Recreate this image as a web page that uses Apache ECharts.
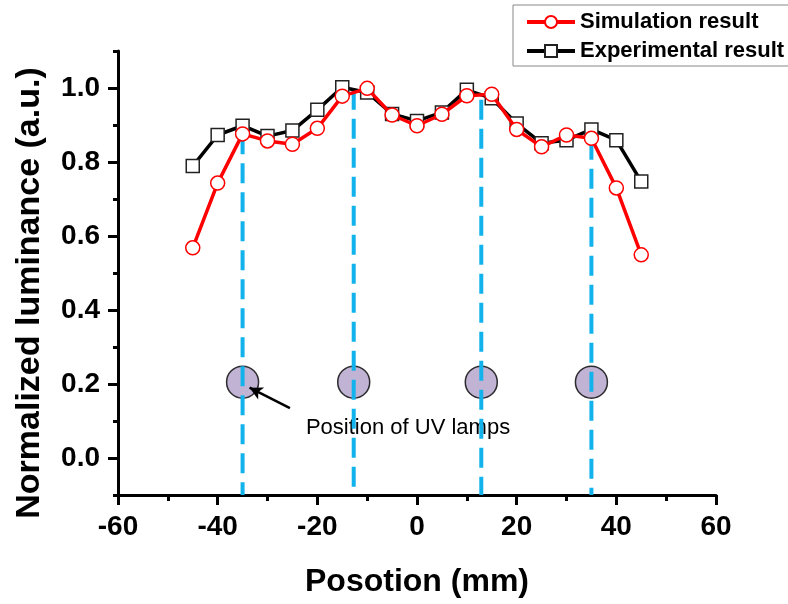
<!DOCTYPE html>
<html>
<head>
<meta charset="utf-8">
<script src="https://cdn.jsdelivr.net/npm/echarts@6/dist/echarts.min.js"></script>
<style>
  html, body { margin: 0; padding: 0; background: #fff; }
  #chart { width: 788px; height: 604px; }
</style>
</head>
<body>
<div id="chart"></div>
<script>
  // positions along the lamp plane (mm)
  var positions = [-45, -40, -35, -30, -25, -20, -15, -10, -5, 0, 5, 10, 15, 20, 25, 30, 35, 40, 45];
  var simulation = [0.568, 0.743, 0.876, 0.857, 0.848, 0.891, 0.978, 0.999, 0.927, 0.898, 0.929, 0.979, 0.983, 0.888, 0.841, 0.873, 0.864, 0.730, 0.549];
  var experimental = [0.789, 0.873, 0.898, 0.870, 0.885, 0.941, 1.002, 0.988, 0.930, 0.911, 0.934, 0.995, 0.972, 0.904, 0.851, 0.859, 0.888, 0.859, 0.747];

  // UV lamps
  var lampX = [-35, -12.7, 12.9, 35];
  var lampY = 0.205;
  var lampLineTop = [0.875, 0.995, 0.968, 0.86];
  var lampLineBottom = -0.1;

  // annotation (data coords)
  var arrowTail = [-25.5, 0.135];
  var arrowHead = [-33.6, 0.19];
  var noteAt = [-1.8, 0.081];
  var noteText = 'Position of UV lamps';

  var yLabels = [0, 0.2, 0.4, 0.6, 0.8, 1.0];
  var yMinor = [-0.1, 0.1, 0.3, 0.5, 0.7, 0.9, 1.1];

  var FONT = '"Liberation Sans", Arial, sans-serif';

  function pairs(xs, ys) {
    return xs.map(function (x, i) { return [x, ys[i]]; });
  }

  var chart = echarts.init(document.getElementById('chart'));

  var lampLines = lampX.map(function (x, i) {
    return {
      type: 'line',
      data: [[x, lampLineTop[i]], [x, lampLineBottom]],
      symbol: 'none',
      silent: true,
      z: 2,
      lineStyle: { color: '#12B2EC', width: 4, type: [20, 9] }
    };
  });

  chart.setOption({
    animation: false,
    grid: { left: 118, right: 72, top: 51, bottom: 109 },
    legend: {
      orient: 'vertical',
      left: 513,
      top: 5,
      padding: [5, 8, 3, 12],
      itemGap: 5,
      itemWidth: 48,
      itemHeight: 15,
      borderColor: '#888',
      borderWidth: 1,
      backgroundColor: '#fff',
      lineStyle: { width: 4 },
      data: ['Simulation result', 'Experimental result'],
      textStyle: { fontFamily: FONT, fontWeight: 'bold', fontSize: 22, color: '#000', lineHeight: 24 }
    },
    xAxis: {
      type: 'value',
      min: -60,
      max: 60,
      interval: 20,
      name: 'Posotion (mm)',
      nameLocation: 'middle',
      nameGap: 71,
      nameTextStyle: { fontFamily: FONT, fontWeight: 'bold', fontSize: 32, color: '#000' },
      axisLine: { onZero: false, lineStyle: { color: '#000', width: 3 } },
      axisTick: { length: 10, lineStyle: { color: '#000', width: 3 } },
      minorTick: { show: true, splitNumber: 2, length: 6, lineStyle: { color: '#000', width: 3 } },
      axisLabel: { margin: 18, fontFamily: FONT, fontWeight: 'bold', fontSize: 28, color: '#000' },
      splitLine: { show: false }
    },
    yAxis: [{
      type: 'value',
      min: -0.1,
      max: 1.1,
      axisLine: { show: true, onZero: false, lineStyle: { color: '#000', width: 3 } },
      axisTick: { show: true, customValues: yLabels, length: 10, lineStyle: { color: '#000', width: 3 } },
      axisLabel: {
        customValues: yLabels,
        margin: 18,
        fontFamily: FONT, fontWeight: 'bold', fontSize: 28, color: '#000',
        formatter: function (v) { return v.toFixed(1); }
      },
      splitLine: { show: false }
    }, {
      // minor ticks only
      type: 'value',
      min: -0.1,
      max: 1.1,
      position: 'left',
      offset: 0,
      axisLine: { show: false, onZero: false },
      axisTick: { show: true, customValues: yMinor, length: 5, lineStyle: { color: '#000', width: 3 } },
      axisLabel: { show: false },
      splitLine: { show: false }
    }],
    series: [{
      type: 'scatter',
      name: 'lamps',
      data: lampX.map(function (x) { return [x, lampY]; }),
      symbol: 'circle',
      symbolSize: 32,
      silent: true,
      z: 1,
      itemStyle: { color: '#B1A0C8', borderColor: '#000', borderWidth: 1.5 },
      markLine: {
        silent: true,
        animation: false,
        symbolSize: [10, 13],
        label: { show: false },
        lineStyle: { color: '#000', width: 2.5, type: 'solid' },
        data: [[
          { coord: arrowTail, symbol: 'none' },
          { coord: arrowHead, symbol: 'arrow' }
        ]]
      }
    }].concat(lampLines).concat([{
      type: 'line',
      name: 'Experimental result',
      data: pairs(positions, experimental),
      symbol: 'rect',
      symbolSize: 13,
      z: 3,
      lineStyle: { color: '#000', width: 3.5 },
      itemStyle: { color: '#fff', borderColor: '#222', borderWidth: 1.5 }
    }, {
      type: 'line',
      name: 'Simulation result',
      data: pairs(positions, simulation),
      symbol: 'circle',
      symbolSize: 14,
      z: 4,
      lineStyle: { color: '#FF0000', width: 3.5 },
      itemStyle: { color: '#fff', borderColor: '#FF0000', borderWidth: 1.5 }
    }])
  });

  // y title and lamp note, placed once the scales exist
  var p = chart.convertToPixel({ xAxisIndex: 0, yAxisIndex: 0 }, noteAt);
  chart.setOption({
    graphic: [{
      id: 'ytitle',
      type: 'text',
      x: 30,
      y: 293,
      rotation: Math.PI / 2,
      style: {
        text: 'Normalized luminance (a.u.)',
        fontFamily: FONT,
        fontWeight: 'bold',
        fontSize: 34,
        fill: '#000',
        align: 'center',
        verticalAlign: 'middle'
      }
    }, {
      id: 'note',
      type: 'text',
      x: p[0],
      y: p[1],
      style: {
        text: noteText,
        fontFamily: FONT,
        fontSize: 22,
        fill: '#000',
        align: 'center',
        verticalAlign: 'middle'
      }
    }]
  });
</script>
</body>
</html>
